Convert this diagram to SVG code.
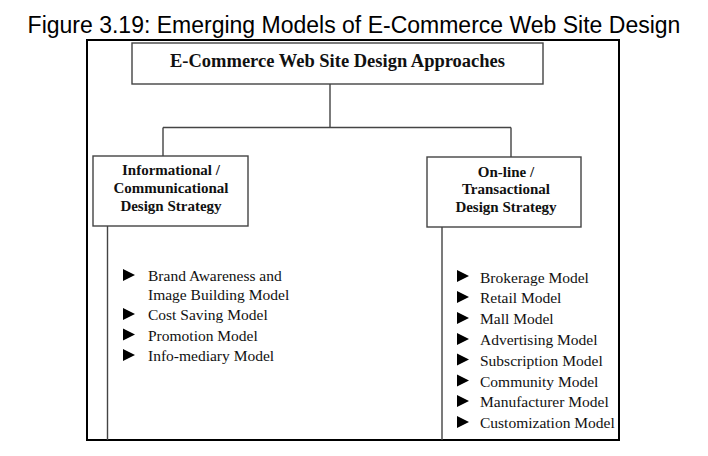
<svg xmlns="http://www.w3.org/2000/svg" width="708" height="456" viewBox="0 0 708 456">
<style>
.title{font-family:"Liberation Sans",Arial,sans-serif;font-size:23px;fill:#000;text-anchor:middle}
.box{fill:#fff;stroke:#444;stroke-width:1.4}
.head{font-family:"Liberation Serif","Times New Roman",serif;font-weight:bold;fill:#111;text-anchor:middle}
.item{font-family:"Liberation Serif","Times New Roman",serif;font-size:15.5px;fill:#111}
.conn{fill:none;stroke:#444;stroke-width:1.4}
.frame{fill:none;stroke:#000;stroke-width:2}
</style>
<defs>
<polygon id="tri" points="0,0 12,6 0,12" fill="#000"/>
</defs>
<rect width="708" height="456" fill="#fff"/>
<text class="title" x="354" y="33">Figure 3.19: Emerging Models of E-Commerce Web Site Design</text>
<rect class="frame" x="87" y="40" width="532" height="400"/>
<g id="connectors">
<path class="conn" d="M330,84 V127.5 M163,127.5 H511 M163,127.5 V156 M511,127.5 V157"/>
<path class="conn" d="M107.5,226 V440 M442,227 V440"/>
</g>
<g id="root">
<rect class="box" x="132" y="43" width="411" height="41"/>
<text class="head" x="337.5" y="67" font-size="18.5">E-Commerce Web Site Design Approaches</text>
</g>
<g id="informational">
<rect class="box" x="93" y="156" width="155" height="70"/>
<text class="head" font-size="15" x="171" y="175">Informational /</text>
<text class="head" font-size="15" x="171" y="193">Communicational</text>
<text class="head" font-size="15" x="171" y="211">Design Strategy</text>
</g>
<g id="transactional">
<rect class="box" x="427" y="157" width="154" height="70"/>
<text class="head" font-size="15" x="506" y="177">On-line /</text>
<text class="head" font-size="15" x="506" y="194">Transactional</text>
<text class="head" font-size="15" x="506" y="212">Design Strategy</text>
</g>
<g id="informational-list">
<use href="#tri" x="123" y="269"/>
<text class="item" x="148" y="281">Brand Awareness and</text>
<text class="item" x="148" y="299.5">Image Building Model</text>
<use href="#tri" x="123" y="308"/>
<text class="item" x="148" y="320">Cost Saving Model</text>
<use href="#tri" x="123" y="328.5"/>
<text class="item" x="148" y="340.5">Promotion Model</text>
<use href="#tri" x="123" y="349"/>
<text class="item" x="148" y="361">Info-mediary Model</text>
</g>
<g id="transactional-list">
<use href="#tri" x="457" y="270"/>
<text class="item" x="480" y="282.5">Brokerage Model</text>
<use href="#tri" x="457" y="291"/>
<text class="item" x="480" y="303.3">Retail Model</text>
<use href="#tri" x="457" y="312"/>
<text class="item" x="480" y="324.1">Mall Model</text>
<use href="#tri" x="457" y="333"/>
<text class="item" x="480" y="344.9">Advertising Model</text>
<use href="#tri" x="457" y="353.5"/>
<text class="item" x="480" y="365.7">Subscription Model</text>
<use href="#tri" x="457" y="374.5"/>
<text class="item" x="480" y="386.5">Community Model</text>
<use href="#tri" x="457" y="395"/>
<text class="item" x="480" y="407.3">Manufacturer Model</text>
<use href="#tri" x="457" y="416"/>
<text class="item" x="480" y="428.1">Customization Model</text>
</g>
</svg>
